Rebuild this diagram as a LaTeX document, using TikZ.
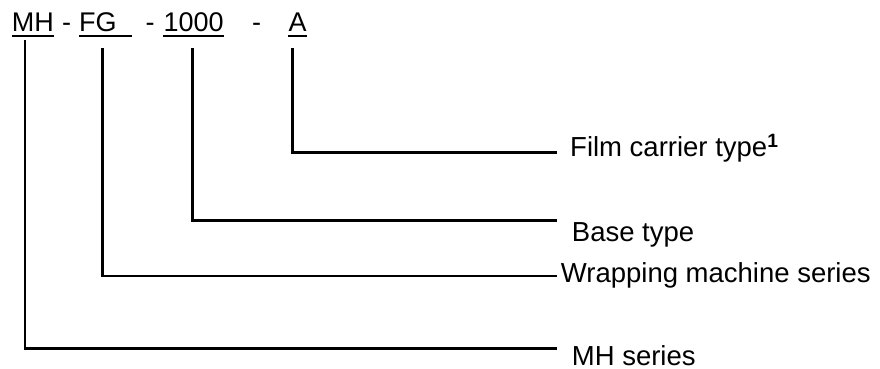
\documentclass[tikz,border=0pt]{standalone}
\usepackage{fontspec}
\setmainfont{Liberation Sans}
\begin{document}
\begin{tikzpicture}[x=1pt,y=-1pt,
  codetxt/.style={anchor=base west,inner sep=0pt,font=\fontsize{27}{32}\selectfont},
  labeltxt/.style={anchor=base west,inner sep=0pt,font=\fontsize{27.5}{32}\selectfont},
  uline/.style={line width=1.7pt},
  leader/.style={line width=2.6pt,line cap=rect}]
\useasboundingbox (0,0) rectangle (880,369);
% code line
\node[codetxt] (mh) at (11.7,32) {MH};
\node[codetxt] (d1) at (61.8,32) {-};
\node[codetxt] (fg) at (79,32) {FG};
\node[codetxt] (d2) at (145.5,32) {-};
\node[codetxt] (num) at (163.3,32) {1000};
\node[codetxt] (d3) at (251.8,32) {-};
\node[codetxt] (typ) at (288.3,32) {A};
% underlines
\draw[uline] ([yshift=-3.9pt]mh.base west) -- ([yshift=-3.9pt]mh.base east);
\draw[uline] ([yshift=-3.9pt]fg.base west) -- ++(52.5,0);
\draw[uline] ([yshift=-3.9pt]num.base west) -- ([yshift=-3.9pt]num.base east);
\draw[uline] ([yshift=-3.9pt]typ.base west) -- ([yshift=-3.9pt]typ.base east);
% labels
\node[labeltxt] (lfilm) at (570,156.7) {Film carrier type\textsuperscript{\textbf{1}}};
\node[labeltxt] (lbase) at (571.7,241.7) {Base type};
\node[labeltxt] (lwrap) at (560.7,282.7) {Wrapping machine series};
\node[labeltxt] (lmh) at (571.7,365.5) {MH series};
% connector end points
\coordinate (smh) at (25,41);
\coordinate (sfg) at (102.7,49);
\coordinate (snum) at (192.7,49);
\coordinate (styp) at (292.7,49);
\coordinate (efilm) at (555.5,152.7);
\coordinate (ebase) at (555.5,220.7);
\coordinate (ewrap) at (555.5,276);
\coordinate (emh) at (555.5,348.3);
% connectors
\draw[leader] (styp) |- (efilm);
\draw[leader] (snum) |- (ebase);
\draw[leader] (sfg) |- (ewrap);
\draw[leader] (smh) |- (emh);
\end{tikzpicture}
\end{document}
